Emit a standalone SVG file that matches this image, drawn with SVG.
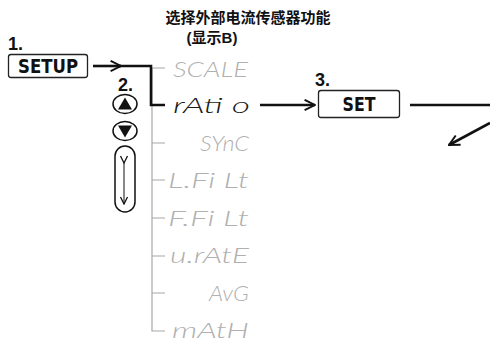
<svg xmlns="http://www.w3.org/2000/svg" width="490" height="356" viewBox="0 0 490 356">
<defs>
<style>
.t{font-family:"Liberation Sans","Noto Sans CJK SC",sans-serif;font-weight:bold;fill:#111}
.k{font-family:"DejaVu Sans Condensed","Liberation Sans",sans-serif;font-weight:bold;fill:#111}
.box{fill:#fff;stroke:#222;stroke-width:1.3}
.seg{font-family:"Lato","Liberation Sans",sans-serif;font-weight:300;font-style:italic;font-size:22px;fill:#b0b0b0}
.tree{stroke:#a8a8a8;stroke-width:1.2;fill:none}
.bl{stroke:#111;stroke-width:2.6;fill:none}
.oval{fill:#fff;stroke:#111;stroke-width:1.5}
</style>
<marker id="ah" viewBox="0 0 10 10" refX="9" refY="5" markerWidth="5" markerHeight="5" orient="auto" markerUnits="strokeWidth">
<path d="M1,1 L9,5 L1,9" fill="none" stroke="#111" stroke-width="1.5"/>
</marker>
<marker id="sh" viewBox="0 0 10 10" refX="9" refY="5" markerWidth="10" markerHeight="10" orient="auto" markerUnits="userSpaceOnUse">
<path d="M2,1.5 L9,5 L2,8.5" fill="none" stroke="#111" stroke-width="1.3"/>
</marker>
</defs>
<rect width="490" height="356" fill="#fff"/>
<g id="title">
<text class="t" x="248" y="23" font-size="15" text-anchor="middle">选择外部电流传感器功能</text>
<text class="t" x="212" y="43" font-size="15" text-anchor="middle">(显示B)</text>
</g>
<g id="step1">
<text class="t" x="8" y="50" font-size="18">1.</text>
<rect class="box" x="8.5" y="54.5" width="79" height="23" rx="2.5"/>
<text class="k" x="48" y="73" font-size="19" text-anchor="middle" textLength="60" lengthAdjust="spacingAndGlyphs">SETUP</text>
</g>
<g id="step2">
<text class="t" x="118" y="91" font-size="18">2.</text>
<ellipse class="oval" cx="125" cy="104" rx="12" ry="9.5"/>
<path d="M118,109.5 L132,109.5 L125,97.5 Z" fill="#111"/>
<ellipse class="oval" cx="125" cy="131" rx="12" ry="9.5"/>
<path d="M118,125.5 L132,125.5 L125,137.5 Z" fill="#111"/>
<rect class="oval" x="115" y="146" width="20" height="66" rx="10"/>
<line x1="124" y1="163" x2="124" y2="204" stroke="#111" stroke-width="1" marker-start="url(#sh)" marker-end="url(#sh)"/>
</g>
<g id="step3">
<text class="t" x="315" y="86" font-size="18">3.</text>
<rect class="box" x="318.5" y="90.5" width="81" height="27" rx="2.5"/>
<text class="k" x="359" y="111" font-size="19" text-anchor="middle" textLength="33" lengthAdjust="spacingAndGlyphs">SET</text>
</g>
<g id="connectors">
<path class="tree" d="M152,68 V331 H165 M152,68 H165 M152,105 H165 M152,143 H165 M152,180 H165 M152,218 H165 M152,256 H165 M152,293 H165"/>
<line class="bl" x1="93" y1="66" x2="121" y2="66" marker-end="url(#ah)"/>
<path class="bl" d="M118,66 H151 V105 H165"/>
<line class="bl" x1="260" y1="105" x2="315" y2="105" marker-end="url(#ah)"/>
<line class="bl" x1="410" y1="105" x2="490" y2="105"/>
<line class="bl" x1="490" y1="123" x2="449" y2="145" marker-end="url(#ah)"/>
</g>
<g id="menu">
<text class="seg" x="173" y="77" textLength="75" lengthAdjust="spacingAndGlyphs">SCALE</text>
<text class="seg" x="173" y="113" textLength="77" lengthAdjust="spacingAndGlyphs" style="fill:#1a1a1a">rAti o</text>
<text class="seg" x="200" y="151" textLength="49" lengthAdjust="spacingAndGlyphs">SYnC</text>
<text class="seg" x="168" y="188" textLength="81" lengthAdjust="spacingAndGlyphs">L.Fi Lt</text>
<text class="seg" x="168" y="226" textLength="81" lengthAdjust="spacingAndGlyphs">F.Fi Lt</text>
<text class="seg" x="170" y="263" textLength="79" lengthAdjust="spacingAndGlyphs">u.rAtE</text>
<text class="seg" x="209" y="301" textLength="40" lengthAdjust="spacingAndGlyphs">AvG</text>
<text class="seg" x="172" y="338" textLength="77" lengthAdjust="spacingAndGlyphs">mAtH</text>
</g>
</svg>
